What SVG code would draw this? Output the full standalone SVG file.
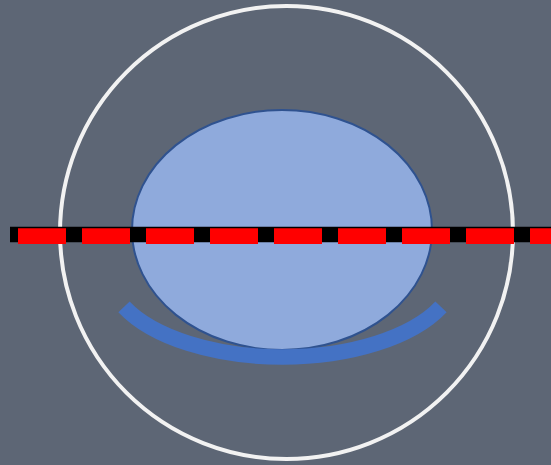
<svg xmlns="http://www.w3.org/2000/svg" width="551" height="465" viewBox="0 0 551 465">
  <style>
    .bg { fill: #5D6675; }
    .outer { fill: none; stroke: #F2F2F2; stroke-width: 4; }
    .body { fill: #8FAADC; stroke: #2F528F; stroke-width: 2; }
    .band { fill: none; stroke: #4472C4; stroke-width: 15.5; stroke-linecap: butt; }
    .axis-black { stroke: #000000; stroke-width: 15.5; }
    .axis-red { stroke: #FF0000; stroke-width: 15.7; stroke-dasharray: 48 16; }
  </style>
  <rect class="bg" x="0" y="0" width="551" height="465"/>
  <g id="outer-circle">
    <circle class="outer" cx="286.5" cy="232.5" r="226.5"/>
  </g>
  <g id="ellipse">
    <ellipse class="body" cx="282" cy="230" rx="150" ry="120"/>
  </g>
  <g id="arc">
    <path class="band" d="M124 306.9 A175 87 0 0 0 441 306.9"/>
  </g>
  <g id="axis-line">
    <line class="axis-black" x1="10" y1="234.5" x2="551" y2="234.5"/>
    <line class="axis-red" x1="18" y1="236.2" x2="551" y2="236.2"/>
  </g>
</svg>
